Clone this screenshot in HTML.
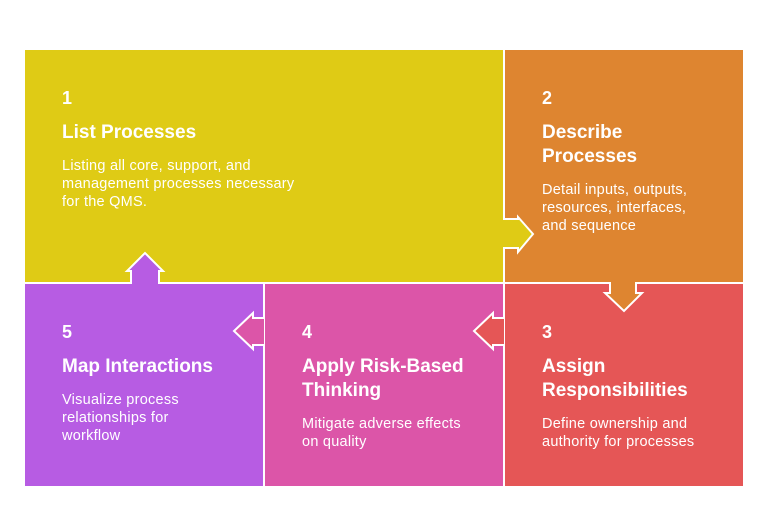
<!DOCTYPE html>
<html><head><style>
body{margin:0;background:#fff;width:768px;height:511px;position:relative;overflow:hidden;font-family:"Liberation Sans",sans-serif;color:#fff}
.t{position:absolute;left:0;top:0}
.n{position:absolute;font-weight:bold;font-size:18px}
.h{position:absolute;font-weight:bold;font-size:19px;line-height:24px}
.d{position:absolute;font-size:14.5px;line-height:18px;letter-spacing:0.25px}
</style></head><body>
<svg class="t" width="768" height="511">
<rect x="25" y="50" width="478" height="232" fill="#dfcb15"/>
<rect x="505" y="50" width="238" height="232" fill="#de8530"/>
<rect x="25" y="284" width="238" height="202" fill="#b75ce3"/>
<rect x="265" y="284" width="238" height="202" fill="#dc55a8"/>
<rect x="505" y="284" width="238" height="202" fill="#e55656"/>
<g stroke="#fff" stroke-width="2" stroke-linejoin="miter">
<polyline points="503,219 518,219 518,217 533,234 518,252 518,248 503,248" fill="#dfcb15"/>
<polyline points="610,282 610,293 605,293 624,311 642,293 636,293 636,282" fill="#de8530"/>
<polyline points="504,318 493,318 493,313 474,331 493,349 493,345 504,345" fill="#e55656"/>
<polyline points="264,318 253,318 253,313 234,331 253,349 253,345 264,345" fill="#dc55a8"/>
<polyline points="131,284 131,271 127,271 145,253 163,271 159,271 159,284" fill="#b75ce3"/>
</g>
</svg>
<div class="n" style="left:62px;top:88px">1</div>
<div class="h" style="left:62px;top:121px">List Processes</div>
<div class="d" style="left:62px;top:157px">Listing all core, support, and<br>management processes necessary<br>for the QMS.</div>
<div class="n" style="left:542px;top:88px">2</div>
<div class="h" style="left:542px;top:121px">Describe<br>Processes</div>
<div class="d" style="left:542px;top:181px">Detail inputs, outputs,<br>resources, interfaces,<br>and sequence</div>
<div class="n" style="left:542px;top:322px">3</div>
<div class="h" style="left:542px;top:355px">Assign<br>Responsibilities</div>
<div class="d" style="left:542px;top:415px">Define ownership and<br>authority for processes</div>
<div class="n" style="left:302px;top:322px">4</div>
<div class="h" style="left:302px;top:355px">Apply Risk-Based<br>Thinking</div>
<div class="d" style="left:302px;top:415px">Mitigate adverse effects<br>on quality</div>
<div class="n" style="left:62px;top:322px">5</div>
<div class="h" style="left:62px;top:355px">Map Interactions</div>
<div class="d" style="left:62px;top:391px">Visualize process<br>relationships for<br>workflow</div>
</body></html>
